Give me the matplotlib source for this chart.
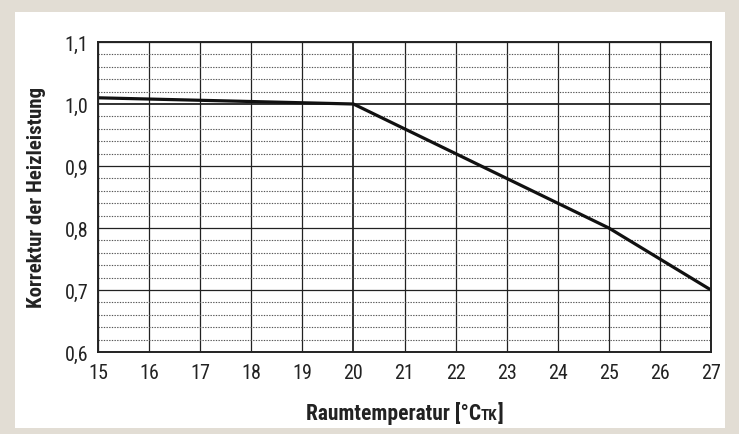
import numpy as np
import matplotlib.pyplot as plt
from matplotlib.patches import Rectangle

# data
temps = [15, 20, 25, 27]
korrektur = [1.01, 1.0, 0.8, 0.7]
xticks = list(range(15, 28))
yticks = [0.6, 0.7, 0.8, 0.9, 1.0, 1.1]
ylabels = ['0,6', '0,7', '0,8', '0,9', '1,0', '1,1']

fam = ['Liberation Sans Narrow', 'Roboto Condensed', 'Roboto', 'DejaVu Sans']
plt.rcParams['font.family'] = fam

W, H = 739, 435
fig = plt.figure(figsize=(W / 100, H / 100), dpi=100)
fig.patch.set_facecolor('#e2ddd4')
fig.patches.append(Rectangle((15 / W, 1 - 429 / H), 710 / W, 416 / H,
                             transform=fig.transFigure, facecolor='white',
                             edgecolor='none', zorder=-5))

ax = fig.add_axes([98 / W, 1 - 353 / H, 613 / W, 310 / H])
ax.set_zorder(2)
ax.set_facecolor('white')

# grid
for x in xticks:
    ax.axvline(x, color='#222222', lw=1.3 if x == 20 else 0.9, zorder=1)
for y in np.arange(0.62, 1.1, 0.02):
    if round(y * 100) % 10:
        ax.axhline(y, color='#555555', lw=0.8, ls=(0, (1.2, 1.2)), zorder=1)
for y in yticks:
    ax.axhline(y, color='#222222', lw=1.3 if y == 1.0 else 0.9, zorder=1)

ax.plot(temps, korrektur, color='#111111', lw=2.3, zorder=3,
        solid_capstyle='butt', solid_joinstyle='miter')

ax.set_xlim(15, 27)
ax.set_ylim(0.6, 1.1)
ax.set_xticks(xticks)
ax.set_yticks(yticks)
ax.set_yticklabels(ylabels)
ax.tick_params(length=0, labelsize=14.5, colors='#222222')
ax.tick_params(axis='x', pad=8)
ax.tick_params(axis='y', pad=7)
for s in ax.spines.values():
    s.set_linewidth(1.4)
    s.set_color('#222222')
    s.set_zorder(4)

ax.set_ylabel('Korrektur der Heizleistung', fontsize=15, fontweight='bold',
              color='#222222', labelpad=13)

# x label with small "TK"
fig.canvas.draw()
r = fig.canvas.get_renderer()
parts = [('Raumtemperatur [°C', 15.5), ('TK', 11), (']', 15.5)]
texts = []
for s, fs in parts:
    texts.append(fig.text(0, 0, s, fontsize=fs, fontweight='bold',
                          color='#222222', va='baseline', ha='left', zorder=5))
widths = [t.get_window_extent(r).width for t in texts]
total = sum(widths)
x0 = 404.5 - total / 2
base = H - 420
for t, w in zip(texts, widths):
    t.set_position((x0 / W, base / H))
    x0 += w

fig.savefig('out.png', dpi=100, facecolor=fig.get_facecolor())
